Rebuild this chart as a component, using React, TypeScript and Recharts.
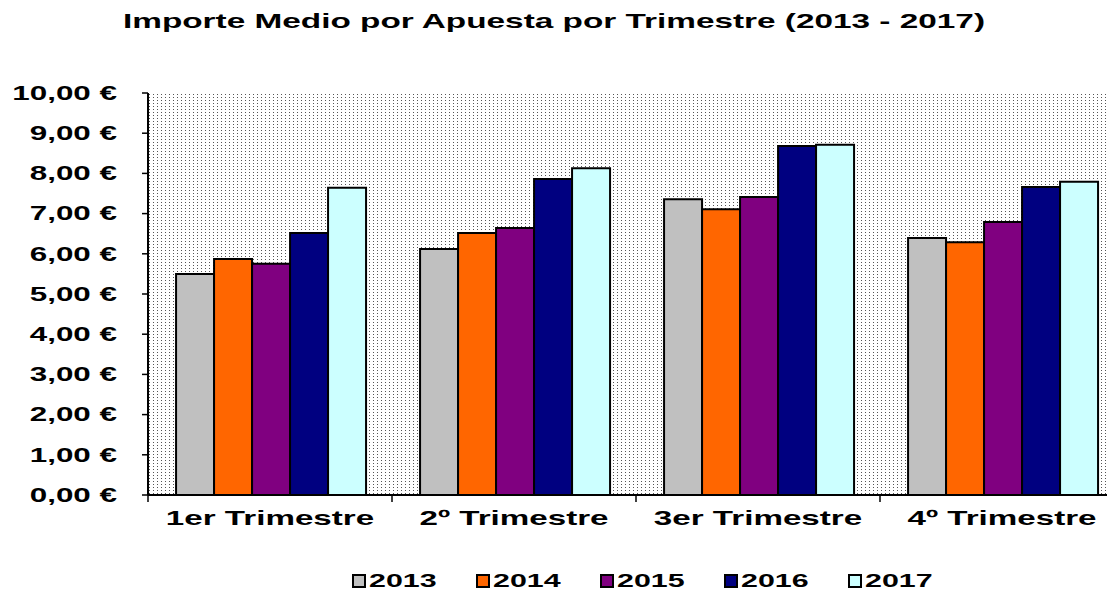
import { Bar, BarChart, CartesianGrid, Legend, XAxis, YAxis } from "recharts";

const categories = ["1er Trimestre", "2º Trimestre", "3er Trimestre", "4º Trimestre"];
const years = ["2013", "2014", "2015", "2016", "2017"];
const v2013 = [5.5, 6.12, 7.36, 6.39];
const v2014 = [5.87, 6.52, 7.11, 6.29];
const v2015 = [5.75, 6.64, 7.41, 6.79];
const v2016 = [6.52, 7.86, 8.68, 7.66];
const v2017 = [7.64, 8.13, 8.71, 7.79];
const yTicks = [0, 1, 2, 3, 4, 5, 6, 7, 8, 9, 10];

const colors: Record<string, string> = {
  "2013": "#C0C0C0",
  "2014": "#FF6600",
  "2015": "#800080",
  "2016": "#000080",
  "2017": "#CCFFFF",
};

const series = [v2013, v2014, v2015, v2016, v2017];
const data = categories.map((name, i) => {
  const row: any = { name };
  years.forEach((y, j) => (row[y] = series[j][i]));
  return row;
});

const FONT = "'Liberation Sans', Arial, sans-serif";
const STRETCH = 1.57;

const fmt = (v: number) => v.toFixed(2).replace(".", ",") + " €";

const YTick = ({ x, y, payload }: any) => (
  <text
    transform={`translate(${x},${y}) scale(${STRETCH},1)`}
    textAnchor="end"
    dominantBaseline="central"
    fontFamily={FONT}
    fontWeight="bold"
    fontSize={20}
    fill="#000"
  >
    {fmt(payload.value)}
  </text>
);

const XTick = ({ x, y, payload }: any) => {
  const half = payload.offset ?? 122;
  const axisY = y - 8;
  return (
    <g>
      <line x1={x - half} x2={x - half} y1={axisY} y2={axisY + 7} stroke="#000" strokeWidth={1.5} />
      <text
        transform={`translate(${x},${axisY + 30}) scale(1.58,1)`}
        textAnchor="middle"
        fontFamily={FONT}
        fontWeight="bold"
        fontSize={21}
        fill="#000"
      >
        {payload.value}
      </text>
    </g>
  );
};

const LegendContent = () => (
  <div style={{ height: 41, display: "flex", paddingLeft: 352, paddingTop: 17, boxSizing: "border-box" }}>
    {years.map((y) => (
      <div key={y} style={{ width: 124, display: "flex", alignItems: "center", height: 18, lineHeight: "18px" }}>
        <span
          style={{
            width: 10,
            height: 10,
            background: colors[y],
            border: "2px solid #000",
            display: "inline-block",
          }}
        />
        <span
          style={{
            display: "inline-block",
            marginLeft: 3,
            fontFamily: FONT,
            fontWeight: "bold",
            fontSize: 19,
            transform: "scaleX(1.6)",
            transformOrigin: "left center",
            color: "#000",
          }}
        >
          {y}
        </span>
      </div>
    ))}
  </div>
);

export default function App() {
  return (
    <div style={{ position: "relative", width: 1115, height: 596, overflow: "hidden", margin: -8, background: "#fff" }}>
      <svg width={1115} height={40} style={{ position: "absolute", left: 0, top: 0 }}>
        <text
          x={554}
          y={28}
          textAnchor="middle"
          textLength={862}
          lengthAdjust="spacingAndGlyphs"
          fontFamily={FONT}
          fontWeight="bold"
          fontSize={21}
          fill="#000"
        >
          Importe Medio por Apuesta por Trimestre (2013 - 2017)
        </text>
      </svg>
      <BarChart
        width={1130}
        height={596}
        data={data}
        margin={{ top: 93, right: 6, bottom: 0, left: 0 }}
        barCategoryGap="11.5%"
        barGap={0}
      >
        <defs>
          <pattern id="dots" width={4} height={3} patternUnits="userSpaceOnUse">
            <rect x={1} y={1} width={1} height={1} fill="#555" />
          </pattern>
        </defs>
        <CartesianGrid horizontal={false} vertical={false} fill="url(#dots)" />
        <XAxis
          dataKey="name"
          height={60}
          tickSize={6}
          tickMargin={2}
          tickLine={false}
          axisLine={{ stroke: "#000", strokeWidth: 2 }}
          tick={<XTick />}
          interval={0}
        />
        <YAxis
          width={148}
          domain={[0, 10]}
          ticks={yTicks}
          interval={0}
          tickSize={6}
          tickMargin={25}
          axisLine={{ stroke: "#000", strokeWidth: 2 }}
          tickLine={{ stroke: "#000", strokeWidth: 1.5 }}
          tick={<YTick />}
        />
        <Legend
          verticalAlign="bottom"
          wrapperStyle={{ left: 0, width: 1130, height: 41 }}
          content={<LegendContent />}
        />
        {years.map((y) => (
          <Bar key={y} dataKey={y} fill={colors[y]} stroke="#000" strokeWidth={2} isAnimationActive={false} />
        ))}
      </BarChart>
    </div>
  );
}
